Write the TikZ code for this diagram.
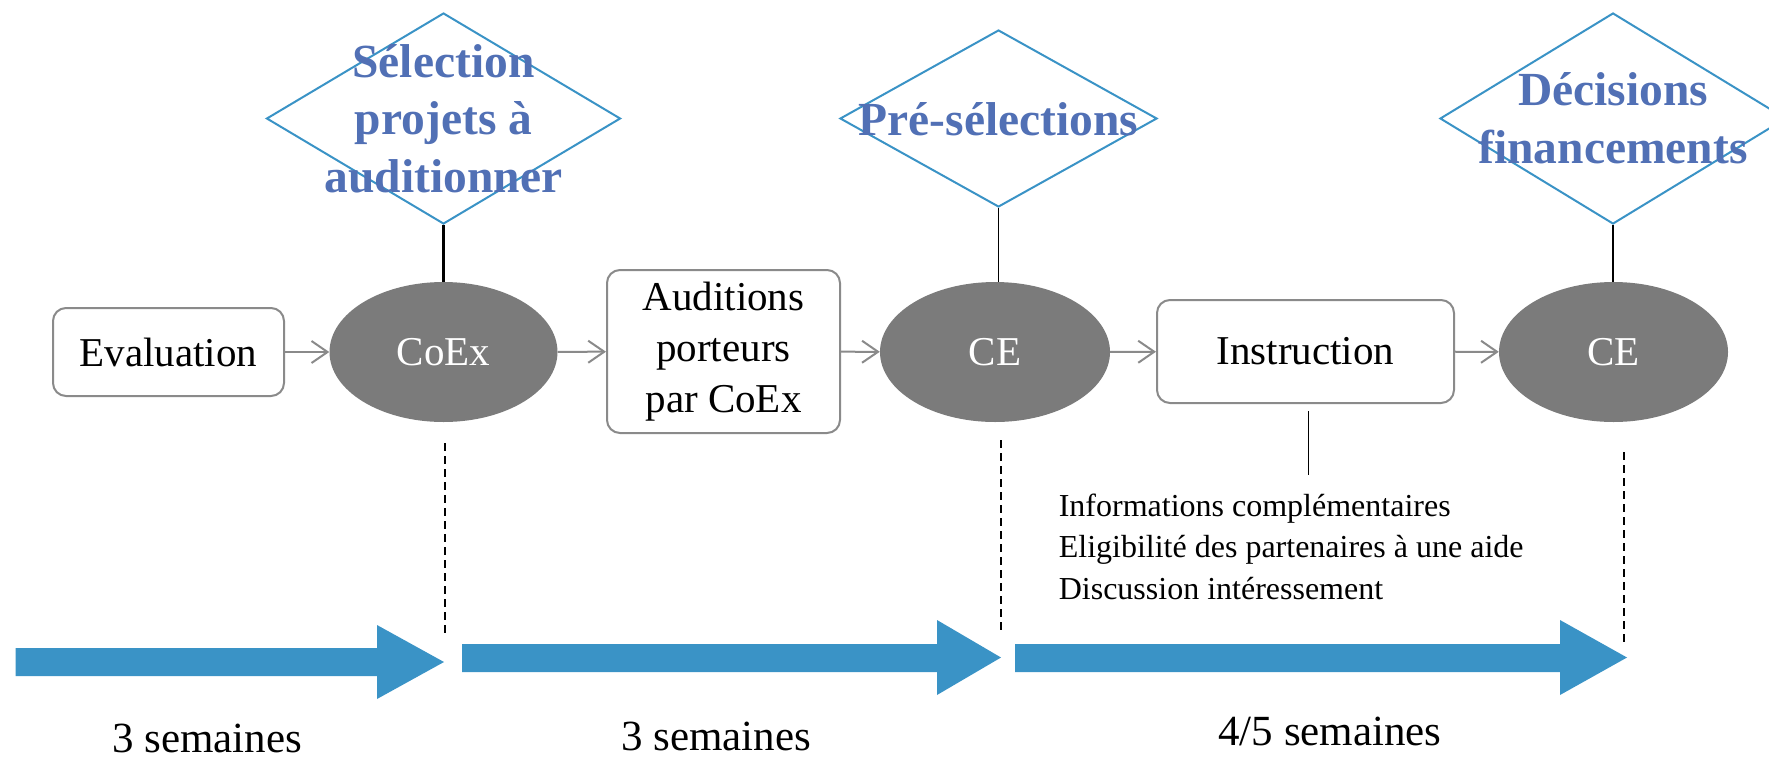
\documentclass[tikz,border=0pt]{standalone}
\usepackage{fontspec}
\setmainfont{Liberation Serif}
\usetikzlibrary{shapes.geometric,arrows.meta}
\definecolor{dblue}{HTML}{3A93C6}
\definecolor{tblue}{HTML}{5170B5}
\definecolor{ellgray}{HTML}{7B7B7B}
\definecolor{boxgray}{HTML}{8A8A8A}
\newcommand\myfs[2]{\fontsize{#1}{#2}\selectfont}
\tikzset{
  stepbox/.style={draw=boxgray, line width=2pt, rounded corners=13pt, fill=white, inner sep=0pt, font=\myfs{41}{51}, align=center},
  committee/.style={ellipse, fill=ellgray, draw=none, inner sep=0pt, text=white, font=\myfs{41}{51}},
  decision/.style={diamond, draw=dblue, line width=2pt, inner sep=0pt, aspect=1},
  dectext/.style={text=tblue, font=\bfseries\myfs{47.5}{57.5}, align=center, inner sep=0pt},
  flow/.style={draw=boxgray, line width=2pt, -{Straight Barb[length=16pt,width=22pt,line width=2pt]}},
  link/.style={draw=black, line width=1.8pt},
  milestone/.style={draw=black, line width=1.6pt, dash pattern=on 8pt off 5pt},
  period/.style={fill=dblue, draw=none},
  duration/.style={font=\myfs{43}{50}, anchor=base, inner sep=0pt},
}
\begin{document}
\begin{tikzpicture}[x=1pt,y=-1pt]
\useasboundingbox (0,0) rectangle (1769,758);

% decision diamonds
\node[decision, minimum width=354pt, minimum height=211pt] (d1) at (443.5,118.5) {};
\node[decision, minimum width=317pt, minimum height=177pt] (d2) at (998.5,118.5) {};
\node[decision, minimum width=346pt, minimum height=211pt] (d3) at (1613,118.5) {};
\node[dectext] (t1) at (443.5,118.5) {Sélection\\projets à\\auditionner};
\node[dectext] (t2) at (998.5,119) {Pré-sélections};
\node[dectext] (t3) at (1613,118) {Décisions\\financements};

% process row
\node[stepbox, minimum width=231pt, minimum height=88pt] (eval) at (168.5,352) {Evaluation};
\node[committee, minimum width=228pt, minimum height=140pt] (coex) at (443.5,352) {CoEx};
\node[stepbox, minimum width=233pt, minimum height=163pt] (aud) at (723.5,351.5) {Auditions\\porteurs\\par CoEx};
\node[committee, minimum width=230pt, minimum height=140pt] (ce1) at (995,352) {CE};
\node[stepbox, minimum width=297pt, minimum height=103pt] (instr) at (1305.5,351.5) {Instruction};
\node[committee, minimum width=229pt, minimum height=140pt] (ce2) at (1613.5,352) {CE};

\draw[flow] (eval) -- (coex);
\draw[flow] (coex) -- (aud);
\draw[flow] (aud) -- (ce1);
\draw[flow] (ce1) -- (instr);
\draw[flow] (instr) -- (ce2);

\draw[link, line width=2.2pt] (d1.south) -- (d1.south |- coex.north);
\draw[link, line width=1.5pt] (d2.south) -- (d2.south |- ce1.north);
\draw[link, line width=1.5pt] (d3.south) -- (d3.south |- ce2.north);

% instruction details
\coordinate (i1) at (1308.6,411);
\coordinate (i2) at (1308.6,475);
\draw[link, line width=1.5pt] (i1) -- (i2);
\node[anchor=base west, align=left, inner sep=0pt, font=\myfs{32}{41.5}] (info) at (1058.6,599)
  {Informations complémentaires\\Eligibilité des partenaires à une aide\\Discussion intéressement};

% milestones
\coordinate (m1a) at (445,443); \coordinate (m1b) at (445,635);
\coordinate (m2a) at (1001,440); \coordinate (m2b) at (1001,632);
\coordinate (m3a) at (1624,452); \coordinate (m3b) at (1624,642);
\draw[milestone] (m1a) -- (m1b);
\draw[milestone] (m2a) -- (m2b);
\draw[milestone] (m3a) -- (m3b);

% timeline arrows
\fill[period] (15.5,648) -- (377,648) -- (377,625) -- (444,662) -- (377,699) -- (377,676) -- (15.5,676) -- cycle;
\fill[period] (462,644) -- (937,644) -- (937,620) -- (1001,657.5) -- (937,695) -- (937,672) -- (462,672) -- cycle;
\fill[period] (1015,644) -- (1560,644) -- (1560,620) -- (1627,657.5) -- (1560,695) -- (1560,672) -- (1015,672) -- cycle;

\node[duration] (w1) at (207,752) {3 semaines};
\node[duration] (w2) at (716,750) {3 semaines};
\node[duration] (w3) at (1330,745) {4/5 semaines};
\end{tikzpicture}
\end{document}
